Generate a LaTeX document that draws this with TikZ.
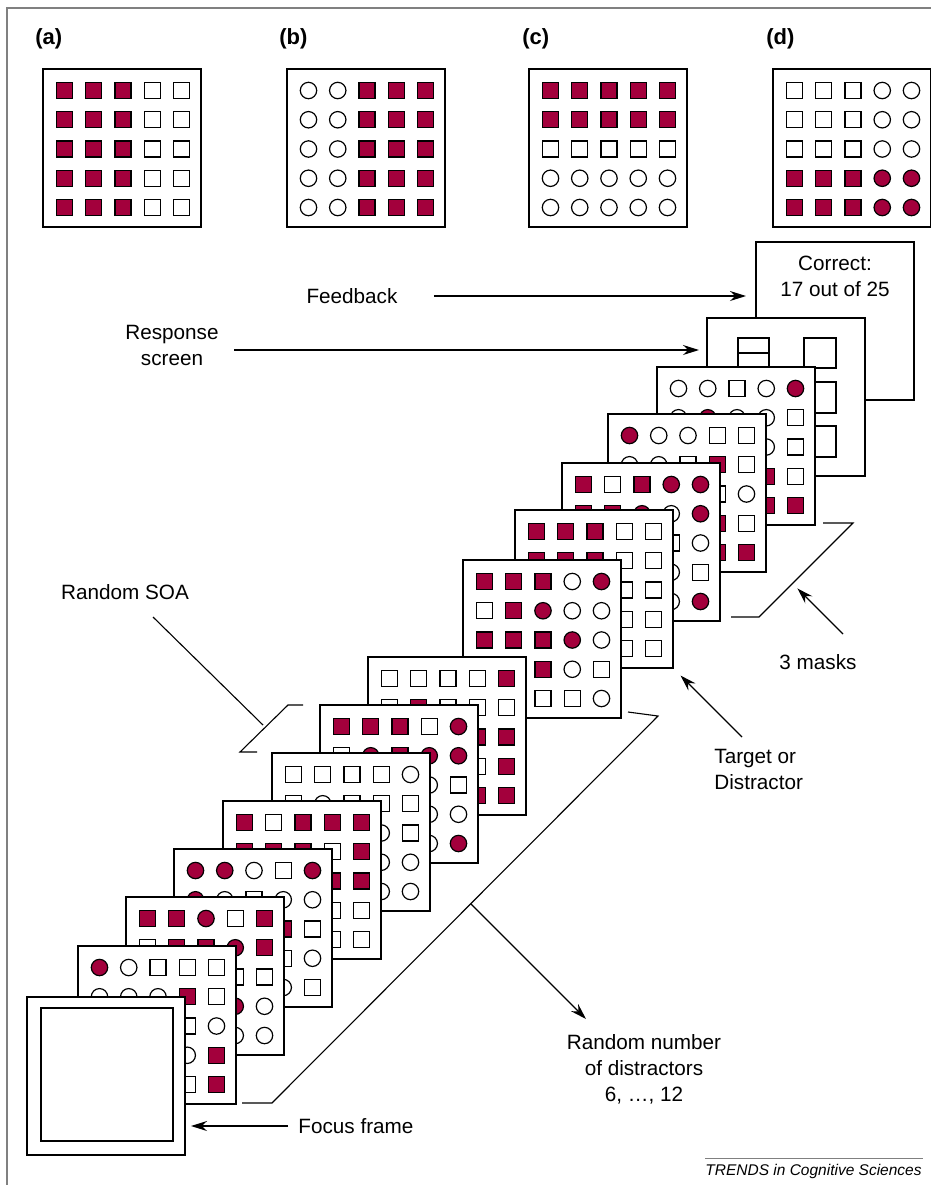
\documentclass[tikz,border=0pt]{standalone}
\usepackage{fontspec}
\setmainfont{Liberation Sans}
\usetikzlibrary{arrows.meta}
\definecolor{maroon}{RGB}{163,0,60}
\definecolor{framegray}{RGB}{128,128,128}

\tikzset{
  screen/.style={draw, fill=white, line width=0.75pt, minimum size=79pt,
    inner sep=0pt, outer sep=0pt, anchor=north west},
  item/.style={draw, line width=0.6pt},
  pointer/.style={-{Stealth[length=8pt,width=5pt]}, line width=0.6pt},
  brace/.style={line width=0.55pt},
  lbltext/.style={font=\fontsize{10.35}{13}\selectfont, align=center, inner sep=0pt},
  panellbl/.style={font=\fontsize{11}{13}\selectfont\bfseries, inner sep=0pt, anchor=west},
}

% one item of a display: #1,#2 centre, #3 kind (s/S square, c/C circle, capital = filled)
\newcommand{\cellat}[3]{%
  \if S#3\filldraw[item, fill=maroon] (#1-8,#2-8) rectangle (#1+8,#2+8);\fi
  \if s#3\draw[item] (#1-8,#2-8) rectangle (#1+8,#2+8);\fi
  \if C#3\filldraw[item, fill=maroon] (#1,#2) circle[radius=4.1pt];\fi
  \if c#3\draw[item] (#1,#2) circle[radius=4.1pt];\fi
}
% a 5x5 display: #1 name, #2 left, #3 top, #4 rows
\newcommand{\stimgrid}[4]{%
  \node[screen] (#1) at (#2,#3) {};
  \foreach \cells [count=\j from 0] in {#4} {
    \foreach \kind [count=\i from 0] in \cells {
      \cellat{#2+21.5+29.25*\i}{#3+21.5+29.25*\j}{\kind}
    }
  }
}

\begin{document}
\begin{tikzpicture}[x=0.5pt,y=-0.5pt]
\useasboundingbox (0,0) rectangle (931,1185);
\draw[framegray, line width=1pt] (7,1185) -- (7,8) -- (931,8);

% the four conditions
\node[panellbl] (lbla) at (35,39) {(a)};
\node[panellbl] (lblb) at (279,39) {(b)};
\node[panellbl] (lblc) at (522,39) {(c)};
\node[panellbl] (lbld) at (766,39) {(d)};
\stimgrid{panela}{43}{69}{{S,S,S,s,s},{S,S,S,s,s},{S,S,S,s,s},{S,S,S,s,s},{S,S,S,s,s}}
\stimgrid{panelb}{287}{69}{{c,c,S,S,S},{c,c,S,S,S},{c,c,S,S,S},{c,c,S,S,S},{c,c,S,S,S}}
\stimgrid{panelc}{529}{69}{{S,S,S,S,S},{S,S,S,S,S},{s,s,s,s,s},{c,c,c,c,c},{c,c,c,c,c}}
\stimgrid{paneld}{773}{69}{{s,s,s,c,c},{s,s,s,c,c},{s,s,s,c,c},{S,S,S,C,C},{S,S,S,C,C}}

% feedback and response screens
\node[screen] (feedback) at (756,242) {};
\node[lbltext] (fbtext) at (835,276) {Correct:\\17 out of 25};
\node[screen] (response) at (707,318) {};
\draw[item] (738,338) rectangle (769,368);
\draw[item] (738,353) -- (769,353);
\draw[item] (804,338) rectangle (836,368);
\draw[item] (804,382) rectangle (836,413);
\draw[item] (804,426) rectangle (836,457);

% masks, target, distractors (back to front)
\stimgrid{mask1}{657}{367}{{c,c,s,c,C},{c,C,c,c,s},{s,c,c,c,s},{c,s,c,S,s},{s,c,s,S,S}}
\stimgrid{mask2}{608}{414}{{C,c,c,s,s},{c,c,s,S,s},{s,c,s,s,c},{c,s,c,S,s},{c,s,c,S,S}}
\stimgrid{mask3}{562}{463}{{S,s,S,C,C},{S,S,C,c,C},{s,S,c,s,c},{c,c,s,c,s},{S,c,s,c,C}}
\stimgrid{target}{515}{510}{{S,S,S,s,s},{S,S,S,s,s},{S,S,S,s,s},{S,S,S,s,s},{S,S,S,s,s}}
\stimgrid{dist1}{463}{560}{{S,S,S,c,C},{s,S,C,c,c},{S,S,S,C,c},{c,s,S,c,s},{s,c,s,s,c}}
\stimgrid{dist2}{368}{657}{{s,s,s,s,S},{s,S,s,s,s},{c,s,S,S,S},{s,c,c,s,S},{c,s,s,S,S}}
\stimgrid{dist3}{320}{705}{{S,S,S,s,C},{s,C,S,C,C},{s,c,s,c,s},{c,s,c,c,c},{s,s,c,c,C}}
\stimgrid{dist4}{272}{753}{{s,s,s,s,c},{s,c,s,s,s},{c,s,s,c,s},{s,c,s,c,c},{c,s,c,c,c}}
\stimgrid{dist5}{223}{801}{{S,s,S,S,S},{S,S,S,s,S},{s,c,s,S,S},{c,s,s,s,s},{s,c,c,s,s}}
\stimgrid{dist6}{174}{849}{{C,C,c,s,C},{C,c,s,c,c},{s,c,s,S,s},{c,s,c,s,c},{s,s,c,c,s}}
\stimgrid{dist7}{126}{897}{{S,S,C,s,S},{s,S,S,C,S},{c,s,c,s,s},{s,c,s,C,c},{c,s,s,c,c}}
\stimgrid{dist8}{78}{946}{{C,c,s,s,s},{c,c,c,S,s},{s,c,s,s,c},{c,s,c,c,S},{s,c,s,s,S}}

% focus frame
\node[screen] (focus) at (27,997) {};
\draw[item, line width=0.75pt] (41,1008) rectangle (173,1141);

% brackets
\draw[brace] (823,523) -- (853,523) -- (759,617) -- (731,617);
\draw[brace] (628,712) -- (658,716) -- (272,1103) -- (242,1103);
\draw[brace] (303,705) -- (288,705) -- (240,752) -- (257,752);

% labels
\node[lbltext] (fblbl) at (352,296) {Feedback};
\node[lbltext] (resplbl) at (172,345) {Response\\screen};
\node[lbltext] (soalbl) at (125,592) {Random SOA};
\node[lbltext] (masklbl) at (818,662) {3 masks};
\node[lbltext, align=left, anchor=west] (targetlbl) at (714,769) {Target or\\Distractor};
\node[lbltext] (distlbl) at (644,1069) {Random number\\of distractors\\6, …, 12};
\node[lbltext, anchor=west] (focuslbl) at (298,1126) {Focus frame};

% connectors
\coordinate (resptail) at (234,350);
\coordinate (soatail) at (153,617);
\coordinate (soamid) at (263,725);
\coordinate (masktail) at (843,634);
\coordinate (maskmid) at (792.5,583.5);
\coordinate (tgttail) at (742,737);
\coordinate (distmid) at (471,904);
\coordinate (disttip) at (586,1019);
\draw[pointer, shorten <=18pt, shorten >=5pt] (fblbl.east) -- (fblbl.east -| feedback.west);
\draw[pointer, shorten >=4pt] (resptail) -- (resptail -| response.west);
\draw[brace] (soatail) -- (soamid);
\draw[pointer, shorten >=3.5pt] (masktail) -- (maskmid);
\draw[pointer, shorten >=5.3pt] (tgttail) -- (target.south east);
\draw[pointer] (distmid) -- (disttip);
\draw[pointer, shorten <=5pt, shorten >=3pt] (focuslbl.west) -- (focuslbl.west -| focus.east);

% journal tag
\draw[framegray, line width=0.5pt] (705,1158) -- (923,1158);
\node[font=\fontsize{7.75}{9}\selectfont\itshape, anchor=east, inner sep=0pt] (journal) at (922,1171) {TRENDS in Cognitive Sciences};
\end{tikzpicture}
\end{document}
